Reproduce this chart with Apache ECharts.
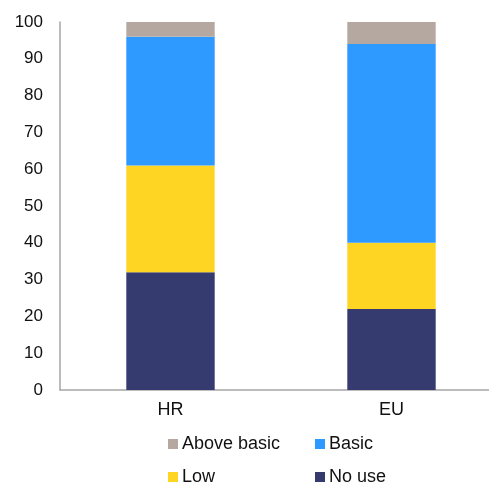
<!DOCTYPE html>
<html>
<head>
<meta charset="utf-8">
<script src="https://cdn.jsdelivr.net/npm/echarts@6/dist/echarts.min.js"></script>
<style>html,body{margin:0;padding:0;background:#fff}#c{width:489px;height:487px}</style>
</head>
<body>
<div id="c"></div>
<script>
var categories = ['HR', 'EU'];
var noUse = [32, 22];
var low = [29, 18];
var basic = [35, 54];
var aboveBasic = [4, 6];
var yTicks = [0, 100, 10];

var colors = {
  'No use': '#363B6F',
  'Low': '#FFD524',
  'Basic': '#2E99FF',
  'Above basic': '#B5A8A0'
};
var font = 'Liberation Sans, Arial, sans-serif';

function ser(name, data) {
  return {
    name: name, type: 'bar', stack: 'a', data: data, barWidth: '40%',
    itemStyle: { color: colors[name] }
  };
}
function leg(name, left, top) {
  return {
    data: [name], left: left, top: top, padding: 0,
    icon: 'rect', itemWidth: 10, itemHeight: 10,
    selectedMode: false,
    textStyle: { fontSize: 18, color: '#111', fontFamily: font, padding: [0, 0, 0, -1] }
  };
}

var chart = echarts.init(document.getElementById('c'), null, { renderer: 'canvas' });
chart.setOption({
  animation: false,
  backgroundColor: '#fff',
  grid: { left: 60, top: 22, width: 442, height: 368, containLabel: false, outerBoundsMode: 'none' },
  xAxis: {
    type: 'category', data: categories,
    axisLine: { lineStyle: { color: '#A6A6A6', width: 1.5 } },
    axisTick: { show: false },
    axisLabel: { fontSize: 18, color: '#111', fontFamily: font, margin: 11 }
  },
  yAxis: {
    type: 'value', min: yTicks[0], max: yTicks[1], interval: yTicks[2],
    axisLine: { show: true, lineStyle: { color: '#A6A6A6', width: 1.5 } },
    axisTick: { show: false },
    splitLine: { show: false },
    axisLabel: { fontSize: 17, color: '#111', fontFamily: font, margin: 17 }
  },
  legend: [
    leg('Above basic', 168, 435),
    leg('Basic', 315, 435),
    leg('Low', 168, 468),
    leg('No use', 315, 468)
  ],
  series: [
    ser('No use', noUse),
    ser('Low', low),
    ser('Basic', basic),
    ser('Above basic', aboveBasic)
  ]
});
</script>
</body>
</html>
